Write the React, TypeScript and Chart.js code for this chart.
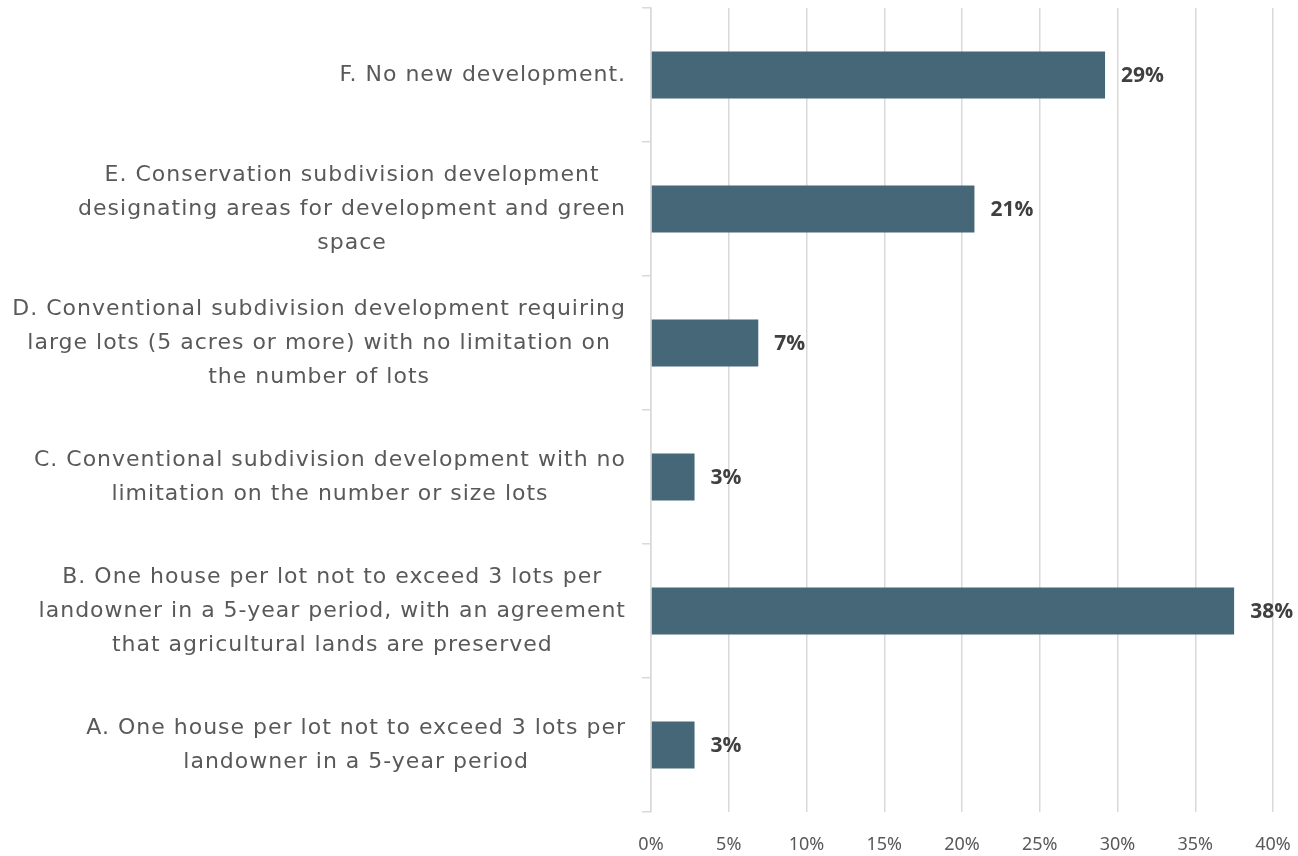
import React, { useEffect, useRef } from "react";
import { Chart, registerables } from "chart.js";

Chart.register(...registerables);

const categories: string[][] = [
  ["F. No new development."],
  ["E. Conservation subdivision development", "designating areas for development and green", "space"],
  ["D. Conventional subdivision development requiring", "large lots (5 acres or more) with no limitation on", "the number of lots"],
  ["C. Conventional subdivision development with no", "limitation on the number or size lots"],
  ["B. One house per lot not to exceed 3 lots per", "landowner in a 5-year period, with an agreement", "that agricultural lands are preserved"],
  ["A. One house per lot not to exceed 3 lots per", "landowner in a 5-year period"],
];
const values: number[] = [29.2, 20.8, 6.9, 2.8, 37.5, 2.8];
const valueLabels: string[] = ["29%", "21%", "7%", "3%", "38%", "3%"];
const xTicks: number[] = [0, 5, 10, 15, 20, 25, 30, 35, 40];

const BAR_COLOR = "#466778";
const GRID = "#d9d9d9";
const CAT_FONT = "22px 'DejaVu Sans'";
const LINE_H = 34;

export default function App() {
  const ref = useRef<HTMLCanvasElement>(null);
  useEffect(() => {
    if (!ref.current) return;
    const catLabelPlugin = {
      id: "catLabels",
      afterDraw(chart: any) {
        const ctx = chart.ctx;
        const ys = chart.scales.y;
        const right = chart.chartArea.left - 25;
        ctx.save();
        ctx.font = CAT_FONT;
        (ctx as any).letterSpacing = "1px";
        ctx.fillStyle = "#595959";
        ctx.textAlign = "center";
        ctx.textBaseline = "middle";
        categories.forEach((lines, i) => {
          const cy = ys.getPixelForValue(i);
          const w = Math.max(...lines.map((l) => ctx.measureText(l).width));
          const cx = right - w / 2;
          const y0 = cy - ((lines.length - 1) * LINE_H) / 2;
          lines.forEach((l, j) => ctx.fillText(l, cx, y0 + j * LINE_H));
        });
        ctx.restore();
      },
    };
    const valuePlugin = {
      id: "valueLabels",
      afterDatasetsDraw(chart: any) {
        const ctx = chart.ctx;
        const meta = chart.getDatasetMeta(0);
        ctx.save();
        ctx.font = "bold 21px 'Open Sans'";
        ctx.fillStyle = "#404040";
        ctx.textAlign = "left";
        ctx.textBaseline = "middle";
        meta.data.forEach((el: any, i: number) => {
          ctx.fillText(valueLabels[i], el.x + 16, el.y + 1);
        });
        ctx.restore();
      },
    };
    const chart = new Chart(ref.current, {
      type: "bar",
      data: {
        labels: categories.map((c) => c.join(" ")),
        datasets: [
          {
            data: values,
            backgroundColor: BAR_COLOR,
            borderWidth: 0,
            categoryPercentage: 1,
            barPercentage: 0.35,
          },
        ],
      },
      options: {
        indexAxis: "y",
        animation: false,
        responsive: false,
        maintainAspectRatio: false,
        layout: { padding: { top: 8, right: 25, left: 0, bottom: 0 } },
        plugins: { legend: { display: false }, tooltip: { enabled: false } },
        scales: {
          x: {
            min: 0,
            max: 40,
            afterBuildTicks: (s: any) => {
              s.ticks = xTicks.map((v) => ({ value: v }));
            },
            grid: { color: GRID, lineWidth: 1.5, drawTicks: false },
            border: { display: false },
            ticks: {
              padding: 22,
              color: "#595959",
              font: { size: 18, family: "'Noto Sans'" },
              maxRotation: 0,
              callback: (v: any) => v + "%",
            },
            afterFit: (s: any) => {
              s.height = 44;
              s.paddingLeft = 0;
              s.paddingRight = 0;
            },
          },
          y: {
            offset: true,
            grid: {
              offset: true,
              drawOnChartArea: false,
              drawTicks: true,
              tickLength: 9,
              color: GRID,
              lineWidth: 1.5,
            },
            border: { display: true, color: GRID, width: 1.5 },
            ticks: { display: false },
            afterFit: (s: any) => {
              s.width = 651;
              s.paddingTop = 0;
              s.paddingBottom = 0;
            },
          },
        },
      },
      plugins: [catLabelPlugin, valuePlugin],
    } as any);
    return () => chart.destroy();
  }, []);
  return (
    <div style={{ position: "fixed", left: 0, top: 0, width: 1298, height: 856, background: "#fff" }}>
      <canvas ref={ref} width={1298} height={856} style={{ width: 1298, height: 856 }} />
    </div>
  );
}
